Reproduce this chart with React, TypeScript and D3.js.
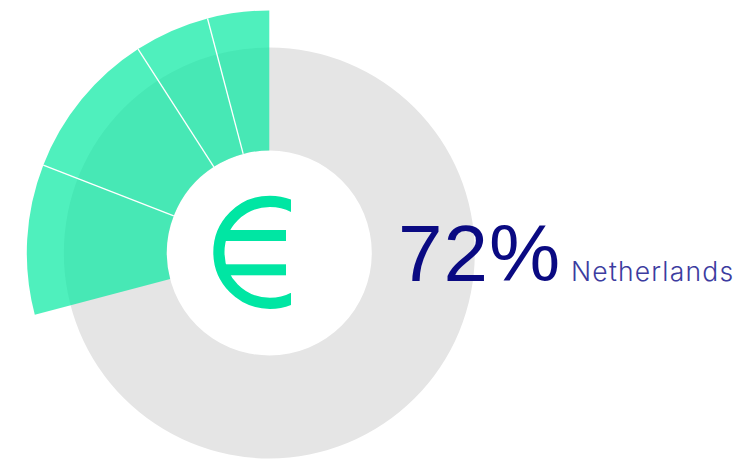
import * as d3 from "d3";

const WIDTH = 744;
const HEIGHT = 459;

// share of the ring per segment, in percent, clockwise from the end of the green part
const segments = [10.0, 10.0, 5.0, 4.1];
const headline = "72%";
const country = "Netherlands";

const cx = 269.3;
const cy = 253;
const innerR = 102.5;
const greyR = 205.5;
const greenR = 242.5;

const angle = d3.scaleLinear([0, 100], [0, 2 * Math.PI]);
const total = d3.sum(segments);

const pie = d3.pie<number>()
  .sort(null)
  .value(d => d)
  .startAngle(-angle(total))
  .endAngle(0);

const greyArc = d3.arc()({
  innerRadius: innerR,
  outerRadius: greyR,
  startAngle: 0,
  endAngle: 2 * Math.PI,
});
const greenArc = d3.arc<d3.PieArcDatum<number>>()
  .innerRadius(innerR)
  .outerRadius(greenR);

export default function App() {
  const slices = pie(segments);
  return (
    <svg
      width={WIDTH}
      height={HEIGHT}
      style={{ position: "absolute", left: 0, top: 0 }}
    >
      <defs>
        <clipPath id="euro-cut">
          <rect x={-60} y={-60} width={81.1} height={120} />
        </clipPath>
      </defs>
      <g transform={`translate(${cx},${cy})`}>
        <path d={greyArc!} fill="#e5e5e5" />
        {slices.map((s, i) => (
          <path key={i} d={greenArc(s)!} fill="#00e9a0" fillOpacity={0.69} />
        ))}
        {slices.slice(1).map((s, i) => {
          const a = s.startAngle - Math.PI / 2;
          return (
            <line
              key={i}
              x1={innerR * Math.cos(a)}
              y1={innerR * Math.sin(a)}
              x2={greenR * Math.cos(a)}
              y2={greenR * Math.sin(a)}
              stroke="#fff"
              strokeWidth={1.3}
            />
          );
        })}
        <g transform="translate(0.6,-0.7)" fill="#00e6a3">
          <g clipPath="url(#euro-cut)">
            <circle r={51} fill="none" stroke="#00e6a3" strokeWidth={11.2} />
          </g>
          <rect x={-50} y={-22.3} width={66.1} height={11} />
          <rect x={-50} y={12} width={66.1} height={11} />
        </g>
      </g>
      <text
        x={398}
        y={281}
        fontFamily="Liberation Sans"
        fontSize={80}
        letterSpacing={1}
        fill="#0a0a82"
      >
        {headline}
      </text>
      <text
        x={571}
        y={280.5}
        fontFamily="Inter"
        fontWeight={300}
        fontSize={26.5}
        letterSpacing={1.2}
        fill="#3c3ca0"
      >
        {country}
      </text>
    </svg>
  );
}
